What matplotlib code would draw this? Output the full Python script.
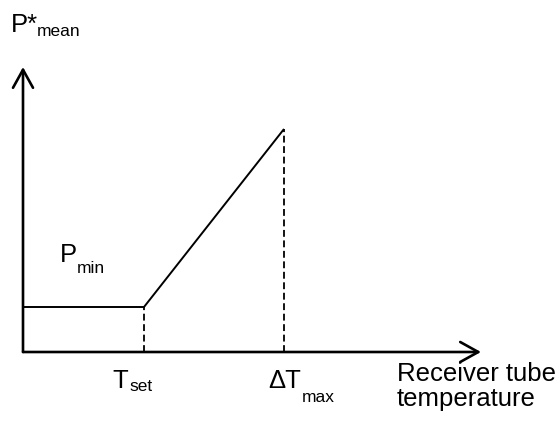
import matplotlib.pyplot as plt

plt.rcParams['font.family'] = ['Liberation Sans', 'DejaVu Sans']

# schematic curve: mean power vs receiver tube temperature
temperature = [0, 121, 261]
power = [45, 45, 223]
t_set = temperature[1]
t_max = temperature[2]
p_min = power[1]
p_max = power[2]

x_axis_end = 458
y_axis_end = 285

fig = plt.figure(figsize=(5.6, 4.24), dpi=100)
ax = fig.add_axes([0, 0, 1, 1])
ax.set_xlim(-23, 537)
ax.set_ylim(-72, 352)
ax.axis('off')

arrow = dict(arrowstyle='->,head_length=0.65,head_width=0.36', lw=1.9,
             color='black', shrinkA=0, shrinkB=0, mutation_scale=20)
ax.annotate('', xy=(x_axis_end, 0), xytext=(0, 0), arrowprops=arrow)
ax.annotate('', xy=(0, y_axis_end), xytext=(0, 0), arrowprops=arrow)

ax.plot(temperature, power, color='black', lw=1.4, solid_capstyle='butt')
ax.vlines([t_set, t_max], 0, [p_min, p_max], colors='black', lw=1.3,
          linestyles=(0, (3.8, 2)))

big = 18.5
small = 12.5

ax.text(-12, 320, 'P*', fontsize=big, ha='left', va='baseline')
ax.text(14, 316, 'mean', fontsize=small, ha='left', va='baseline')

ax.text(37, 90, 'P', fontsize=big, ha='left', va='baseline')
ax.text(54, 79, 'min', fontsize=small, ha='left', va='baseline')

ax.text(89, -36, 'T', fontsize=big, ha='left', va='baseline')
ax.text(106, -39, 'set', fontsize=small, ha='left', va='baseline')

ax.text(245, -36, '\u0394T', fontsize=big, ha='left', va='baseline')
ax.text(279, -50, 'max', fontsize=small, ha='left', va='baseline')

ax.text(374, -54, 'Receiver tube\ntemperature', fontsize=big, ha='left',
        va='baseline', linespacing=1.05)

fig.savefig('out.png', dpi=100)
